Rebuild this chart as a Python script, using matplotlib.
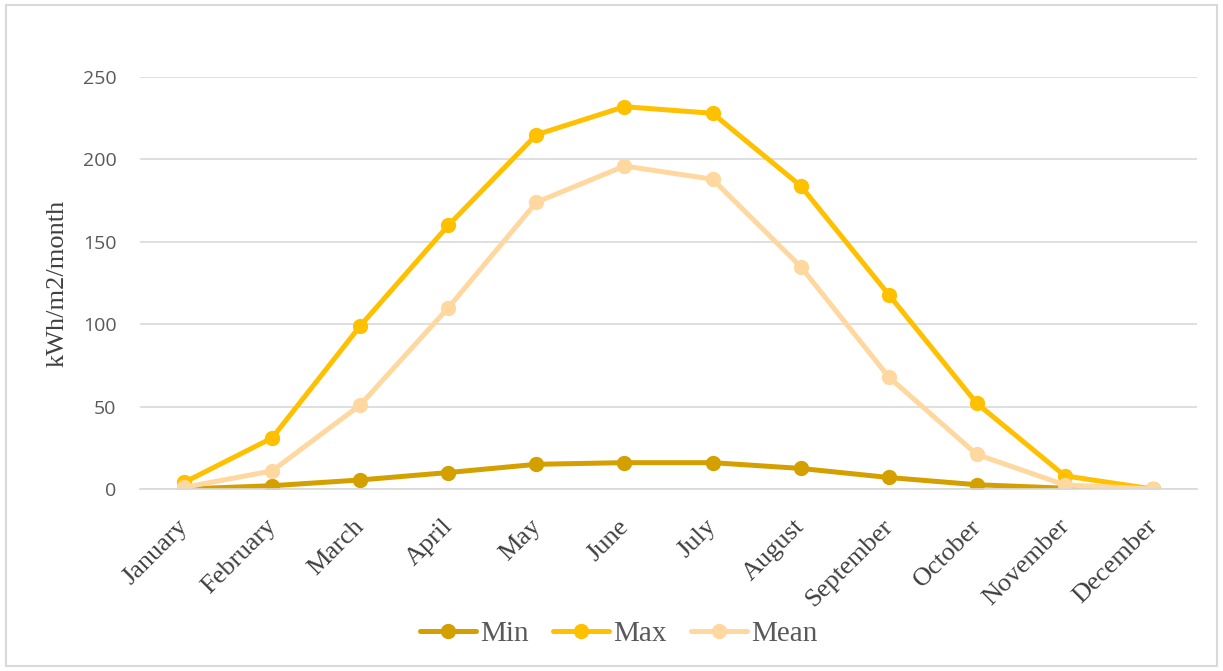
import matplotlib
matplotlib.use("Agg")
import matplotlib.pyplot as plt
from matplotlib.patches import Rectangle

months = ["January", "February", "March", "April", "May", "June", "July",
          "August", "September", "October", "November", "December"]
min_vals = [0, 2, 5.5, 10, 15, 16, 16, 12.5, 7, 2.6, 0.5, 0]
max_vals = [4, 31, 99, 160, 215, 232, 228, 184, 118, 52, 8, 0]
mean_vals = [1, 11, 51, 110, 174, 196, 188, 135, 68, 21, 2.5, 0]

series = [("Min", min_vals, "#D4A000"),
          ("Max", max_vals, "#FFC000"),
          ("Mean", mean_vals, "#FFD8A0")]

fig = plt.figure(figsize=(12.23, 6.71), dpi=100)
fig.patches.append(Rectangle((0.005, 0.008), 0.99, 0.984, transform=fig.transFigure,
                             fill=False, edgecolor="#D9D9D9", linewidth=1.5))
ax = fig.add_axes([0.1145, 0.2712, 0.8642, 0.614])

x = list(range(len(months)))
for name, vals, color in series:
    ax.plot(x, vals, color=color, linewidth=3.6, marker="o", markersize=10,
            label=name, solid_capstyle="round")

ax.set_xlim(-0.5, len(months) - 0.5)
ax.set_ylim(0, 250)
ax.set_yticks(range(0, 251, 50))
ax.set_xticks(x)
ax.set_xticklabels([])
# rotated month names hanging below each tick
for i, m in enumerate(months):
    ax.annotate(m, xy=(i, 0), xycoords=("data", "axes fraction"),
                xytext=(-5, -19), textcoords="offset points",
                rotation=45, ha="right", va="top", rotation_mode="anchor",
                family="Liberation Serif", fontsize=19, color="#404040")
for lab in ax.get_yticklabels():
    lab.set_family("Open Sans")
    lab.set_fontsize(14)
    lab.set_color("#595959")
ax.tick_params(axis="both", length=0)
ax.tick_params(axis="y", pad=17)
ax.grid(axis="y", color="#D9D9D9", linewidth=1.2)
ax.set_axisbelow(True)
for side in ["top", "right", "left"]:
    ax.spines[side].set_visible(False)
ax.spines["bottom"].set_color("#D9D9D9")
ax.spines["bottom"].set_linewidth(1.2)

ax.set_ylabel("kWh/m2/month", family="Liberation Serif", fontsize=19, color="#404040",
              labelpad=10)

fig.legend(loc="center", bbox_to_anchor=(0.506, 0.055), ncol=3, frameon=False,
           prop={"family": "Liberation Serif", "size": 21}, labelcolor="#595959",
           handlelength=1.9, handletextpad=0.15, columnspacing=0.85)

fig.savefig("out.png", dpi=100)
